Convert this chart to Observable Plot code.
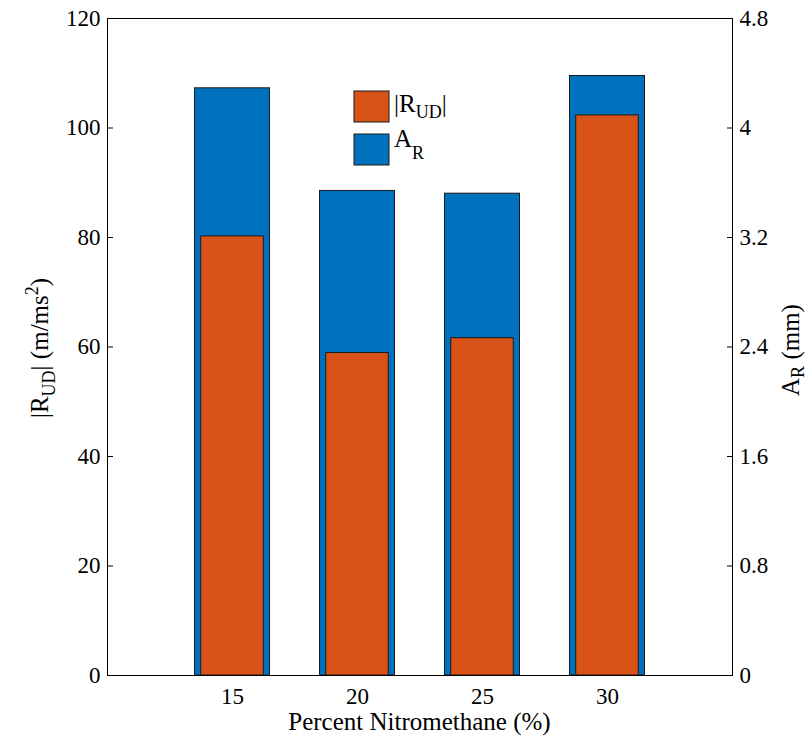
<!DOCTYPE html>
<html>
<head>
<meta charset="utf-8">
<script src="https://cdn.jsdelivr.net/npm/d3@7"></script>
<script src="https://cdn.jsdelivr.net/npm/@observablehq/plot@0.6"></script>
<style>
  html, body { margin: 0; padding: 0; background: #fff; }
  svg, svg text { font-family: "Liberation Serif", "Times New Roman", serif !important; }
  svg text { fill: #000; }
</style>
</head>
<body>
<div id="chart"></div>
<script>
// ---- data ----
const categories = [15, 20, 25, 30];               // Percent Nitromethane (%)
const rudValues = [80.2, 58.9, 61.6, 102.3];        // |R_UD| (m/ms^2), left axis
const arValues = [4.29, 3.54, 3.52, 4.38];          // A_R (mm), right axis
const leftTicks = [0, 20, 40, 60, 80, 100, 120];
const rightTicks = [0, 0.8, 1.6, 2.4, 3.2, 4, 4.8];
const xTicks = [15, 20, 25, 30];

const leftMax = 120, rightMax = 4.8;
const k = leftMax / rightMax; // right -> left scale factor

const data = categories.map((c, i) => ({cat: c, rud: rudValues[i], ar: arValues[i]}));

const W = 809, H = 740;
const mL = 107, mR = 77, mT = 18, mB = 65;
const blue = "#0072BD", orange = "#D95319", edge = "#1a1a1a";
const font = "Liberation Serif, Times New Roman, serif";

const chart = Plot.plot({
  width: W, height: H,
  marginLeft: mL, marginRight: mR, marginTop: mT, marginBottom: mB,
  style: {fontSize: "23px", color: "#000", background: "#fff"},
  x: {domain: [10, 35]},
  y: {domain: [0, leftMax]},
  marks: [
    Plot.rect(data, {x1: d => d.cat - 1.5, x2: d => d.cat + 1.5, y1: 0, y2: d => d.ar * k,
      fill: blue, stroke: edge, strokeWidth: 1}),
    Plot.rect(data, {x1: d => d.cat - 1.25, x2: d => d.cat + 1.25, y1: 0, y2: d => d.rud,
      fill: orange, stroke: edge, strokeWidth: 1}),
    Plot.axisY(leftTicks, {anchor: "left", tickSize: -6, tickPadding: 13, label: null}),
    Plot.axisY(rightTicks.map(v => v * k), {anchor: "right", tickSize: -6, tickPadding: 13, label: null,
      tickFormat: d => String(+(d / k).toFixed(2))}),
    Plot.axisX(xTicks, {anchor: "bottom", tickSize: 0, tickPadding: 12, label: null}),
    Plot.frame({stroke: "#000", strokeWidth: 1})
  ]
});

document.getElementById("chart").appendChild(chart);

const svg = d3.select(chart);
const g = svg.append("g").attr("font-family", font).attr("fill", "#000");

// Left y label
const yl = g.append("text")
  .attr("transform", `translate(48,348) rotate(-90)`)
  .attr("text-anchor", "middle").attr("font-size", 25);
yl.append("tspan").text("|R");
yl.append("tspan").attr("font-size", 18).attr("dy", 7).text("UD");
yl.append("tspan").attr("dy", -7).text("| (m/ms");
yl.append("tspan").attr("font-size", 18).attr("dy", -10).text("2");
yl.append("tspan").attr("dy", 10).text(")");

// Right y label
const yr = g.append("text")
  .attr("transform", `translate(799,350) rotate(-90)`)
  .attr("text-anchor", "middle").attr("font-size", 25);
yr.append("tspan").text("A");
yr.append("tspan").attr("font-size", 18).attr("dy", 5).text("R");
yr.append("tspan").attr("dy", -5).text(" (mm)");

// X label
g.append("text")
  .attr("x", (mL + W - mR) / 2).attr("y", 730)
  .attr("text-anchor", "middle").attr("font-size", 25)
  .text("Percent Nitromethane (%)");

// Legend
const legend = [
  {main: "|R", sub: "UD", tail: "|", color: orange, y: 91, base: 112, subdy: 6},
  {main: "A", sub: "R", tail: "", color: blue, y: 134, base: 147, subdy: 12}
];
legend.forEach(e => {
  g.append("rect").attr("x", 354).attr("y", e.y).attr("width", 35).attr("height", 31)
    .attr("fill", e.color).attr("stroke", edge).attr("stroke-width", 1);
  const t = g.append("text").attr("x", 394).attr("y", e.base).attr("font-size", 25)
    .attr("text-anchor", "start").attr("fill", "#000");
  t.append("tspan").text(e.main);
  t.append("tspan").attr("font-size", 18).attr("dy", e.subdy).text(e.sub);
  if (e.tail) t.append("tspan").attr("dy", -e.subdy).text(e.tail);
});
</script>
</body>
</html>
